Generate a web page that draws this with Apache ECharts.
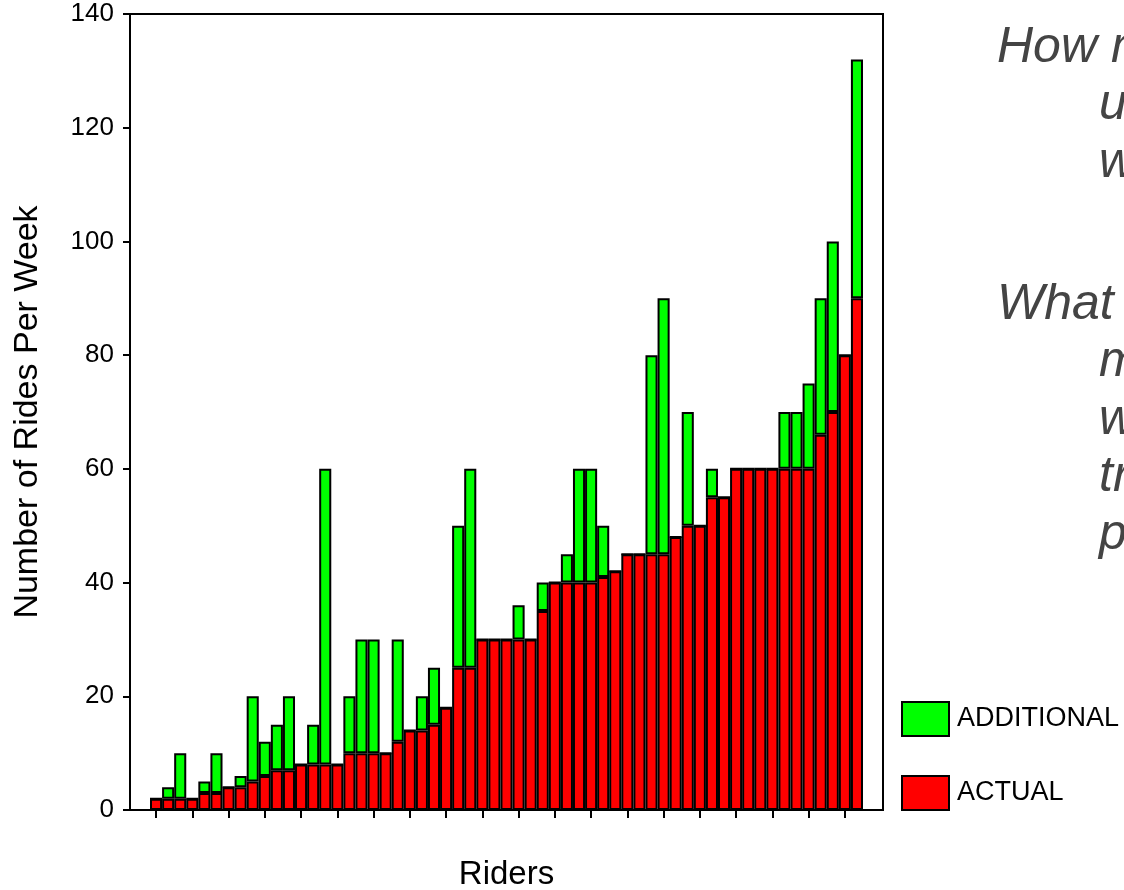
<!DOCTYPE html>
<html>
<head>
<meta charset="utf-8">
<script src="https://cdn.jsdelivr.net/npm/echarts@6/dist/echarts.min.js"></script>
<style>
html,body{margin:0;padding:0;background:#fff;}
#chart{width:1124px;height:890px;}
</style>
</head>
<body>
<div id="chart"></div>
<script>
// Rides actually taken per week, one bar per rider (sorted)
const actual = [2,2,2,2,3,3,4,4,5,6,7,7,8,8,8,8,10,10,10,10,12,14,14,15,18,25,25,30,30,30,30,30,35,40,40,40,40,41,42,45,45,45,45,48,50,50,55,55,60,60,60,60,60,60,60,66,70,80,90];
// Additional rides per week the rider would use
const additional = [0,2,8,0,2,7,0,2,15,6,8,13,0,7,52,0,10,20,20,0,18,0,6,10,0,25,35,0,0,0,6,0,5,0,5,20,20,9,0,0,0,35,45,0,20,0,5,0,0,0,0,0,10,10,15,24,30,0,42];
const riders = actual.map((_, i) => 'Rider ' + (i + 1));
const yTicks = [0, 20, 40, 60, 80, 100, 120, 140];
const seriesNames = ['ACTUAL', 'ADDITIONAL'];
const sideText1 = ['How m', 'u', 'w'];
const sideText2 = ['What', 'm', 'w', 'tr', 'p'];

const FONT = '"Liberation Sans", Arial, Helvetica, sans-serif';
const chart = echarts.init(document.getElementById('chart'));

function sideLines(lines, firstBaseline) {
  return lines.map((t, i) => ({
    type: 'text',
    left: i === 0 ? 997 : 1099,
    top: firstBaseline + i * 57.5 - 42,
    silent: true,
    style: {
      text: t,
      font: 'italic 50px ' + FONT,
      fill: '#444444'
    }
  }));
}

const option = {
  backgroundColor: '#ffffff',
  animation: false,
  textStyle: { fontFamily: FONT },
  grid: [
    { left: 130, top: 14, width: 753, height: 796, outerBoundsMode: 'none', containLabel: false,
      show: true, borderColor: '#000', borderWidth: 2, backgroundColor: 'transparent' },
    { left: 150, top: 14, width: 713, height: 796, outerBoundsMode: 'none', containLabel: false }
  ],
  legend: {
    orient: 'vertical',
    left: 896,
    top: 696,
    itemWidth: 47,
    itemHeight: 34,
    itemGap: 38,
    icon: 'rect',
    data: ['ADDITIONAL', 'ACTUAL'],
    textStyle: { fontSize: 27, color: '#000', fontFamily: FONT, padding: [0, 0, 0, 3] }
  },
  xAxis: [
    {
      gridIndex: 0, type: 'value', min: 0, max: 1,
      axisLine: { show: true, lineStyle: { color: '#000', width: 2 } },
      axisTick: { show: false }, axisLabel: { show: false }, splitLine: { show: false },
      name: 'Riders', nameLocation: 'middle', nameGap: 48,
      nameTextStyle: { fontSize: 33, color: '#000', fontFamily: FONT }
    },
    {
      gridIndex: 1, type: 'category', data: riders,
      axisLine: { show: false },
      axisTick: { show: true, interval: 2, alignWithLabel: true, length: 8, lineStyle: { color: '#000', width: 2 } },
      axisLabel: { show: false }, splitLine: { show: false }
    }
  ],
  yAxis: [
    {
      gridIndex: 0, type: 'value', min: 0, max: 140, interval: 20,
      axisLine: { show: true, lineStyle: { color: '#000', width: 2 } },
      axisTick: { show: true, length: 7, lineStyle: { color: '#000', width: 2 } },
      axisLabel: { fontSize: 26, color: '#000', margin: 16, fontFamily: FONT,
        customValues: yTicks },
      splitLine: { show: false },
      name: 'Number of Rides Per Week', nameLocation: 'middle', nameGap: 85,
      nameTextStyle: { fontSize: 34, color: '#000', fontFamily: FONT }
    },
    {
      gridIndex: 1, type: 'value', min: 0, max: 140, show: false
    }
  ],
  series: [
    {
      name: seriesNames[0], type: 'bar', stack: 'rides', xAxisIndex: 1, yAxisIndex: 1,
      data: actual, barCategoryGap: '0%',
      itemStyle: { color: '#ff0000', borderColor: '#000', borderWidth: 2 }
    },
    {
      name: seriesNames[1], type: 'bar', stack: 'rides', xAxisIndex: 1, yAxisIndex: 1,
      data: additional, barCategoryGap: '0%',
      itemStyle: { color: '#00ff00', borderColor: '#000', borderWidth: 2 }
    }
  ],
  graphic: sideLines(sideText1, 65).concat(sideLines(sideText2, 322))
};
chart.setOption(option);
</script>
</body>
</html>
